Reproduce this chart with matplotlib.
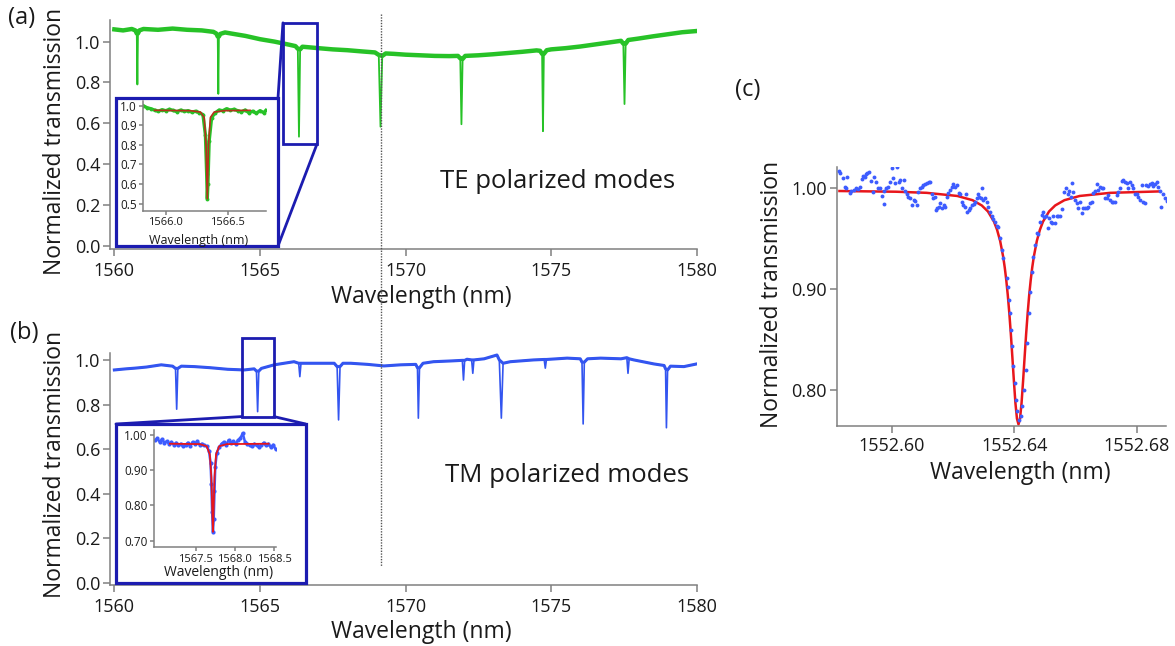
import matplotlib
matplotlib.use("Agg")
import matplotlib.pyplot as plt
from matplotlib.patches import Rectangle, ConnectionPatch
from matplotlib.lines import Line2D
from matplotlib.transforms import blended_transform_factory
from matplotlib.ticker import FormatStrFormatter

plt.rcParams['font.family'] = ['Open Sans', 'DejaVu Sans']

# ---------------- data ----------------
# (a) TE polarized modes: baseline samples and resonance minima
te_base_wl = [1560.00, 1560.30, 1560.60, 1560.72, 1560.77, 1560.81, 1560.86, 1561.00, 1561.50, 1562.00,
              1562.50, 1563.00, 1563.40, 1563.50, 1563.55, 1563.59, 1563.64, 1563.80, 1564.00, 1564.50,
              1565.00, 1565.50, 1566.00, 1566.22, 1566.30, 1566.38, 1566.46, 1566.70, 1567.00, 1567.50,
              1568.00, 1568.50, 1568.95, 1569.08, 1569.20, 1569.32, 1569.60, 1570.00, 1570.50, 1571.00,
              1571.50, 1571.80, 1571.88, 1571.96, 1572.05, 1572.50, 1573.00, 1573.50, 1574.00, 1574.50,
              1574.62, 1574.69, 1574.75, 1574.85, 1575.00, 1575.50, 1576.00, 1576.50, 1577.00, 1577.40,
              1577.48, 1577.56, 1577.65, 1578.00, 1578.50, 1579.00, 1579.50, 1580.00]
te_base_T = [1.060, 1.055, 1.062, 1.055, 1.040, 1.040, 1.055, 1.062, 1.058, 1.064,
             1.058, 1.055, 1.048, 1.040, 1.025, 1.025, 1.038, 1.045, 1.040, 1.028,
             1.012, 1.000, 0.985, 0.978, 0.965, 0.962, 0.975, 0.972, 0.968, 0.962,
             0.958, 0.952, 0.947, 0.935, 0.930, 0.942, 0.940, 0.936, 0.933, 0.930,
             0.929, 0.930, 0.918, 0.915, 0.930, 0.933, 0.938, 0.944, 0.950, 0.957,
             0.955, 0.940, 0.940, 0.958, 0.962, 0.968, 0.976, 0.986, 0.996, 1.004,
             0.990, 0.990, 1.008, 1.015, 1.026, 1.036, 1.046, 1.052]
te_dip_wl = [1560.79, 1563.57, 1566.34, 1569.14, 1571.92, 1574.72, 1577.52]
te_dip_T = [0.790, 0.744, 0.534, 0.583, 0.595, 0.561, 0.694]

# (a) inset: measured (green) and fit (red)
te_in_wl = [1565.82, 1565.85, 1565.88, 1565.91, 1565.94, 1565.97, 1566.00, 1566.03, 1566.06, 1566.09,
            1566.12, 1566.15, 1566.18, 1566.21, 1566.24, 1566.27, 1566.30, 1566.32, 1566.33, 1566.335,
            1566.34, 1566.35, 1566.37, 1566.40, 1566.43, 1566.46, 1566.49, 1566.52, 1566.55, 1566.58,
            1566.61, 1566.64, 1566.67, 1566.70, 1566.73, 1566.76, 1566.79, 1566.81]
te_in_T = [1.000, 0.990, 0.985, 0.978, 0.972, 0.980, 0.975, 0.982, 0.976, 0.970,
           0.978, 0.972, 0.975, 0.968, 0.972, 0.965, 0.955, 0.850, 0.650, 0.525,
           0.600, 0.820, 0.940, 0.965, 0.978, 0.975, 0.985, 0.978, 0.982, 0.975,
           0.970, 0.978, 0.965, 0.972, 0.962, 0.975, 0.965, 0.978]
te_fit_wl = [1565.91, 1566.20, 1566.28, 1566.31, 1566.325, 1566.335, 1566.345, 1566.36, 1566.39, 1566.47, 1566.68]
te_fit_T = [0.977, 0.975, 0.968, 0.940, 0.800, 0.525, 0.800, 0.940, 0.968, 0.975, 0.977]

# (b) TM polarized modes: baseline samples and resonance minima
tm_base_wl = [1560.00, 1560.40, 1560.70, 1561.10, 1561.61, 1562.00, 1562.10, 1562.18, 1562.30, 1562.75,
              1563.30, 1563.89, 1564.46, 1564.80, 1564.88, 1564.96, 1565.05, 1565.49, 1566.17, 1566.33,
              1566.41, 1566.98, 1567.55, 1567.65, 1567.75, 1567.85, 1568.12, 1568.70, 1569.26, 1569.83,
              1570.35, 1570.41, 1570.48, 1570.60, 1570.96, 1571.50, 1571.95, 1572.03, 1572.11, 1572.27,
              1572.35, 1572.70, 1573.14, 1573.22, 1573.35, 1573.60, 1574.40, 1574.76, 1574.84, 1575.55,
              1576.00, 1576.06, 1576.14, 1576.25, 1576.70, 1577.40, 1577.60, 1577.68, 1577.84, 1578.53,
              1578.88, 1578.93, 1579.00, 1579.10, 1579.56, 1580.00]
tm_base_T = [0.955, 0.960, 0.963, 0.968, 0.978, 0.972, 0.962, 0.962, 0.972, 0.970,
             0.965, 0.958, 0.955, 0.960, 0.950, 0.950, 0.962, 0.978, 0.992, 0.985,
             0.985, 0.985, 0.985, 0.970, 0.970, 0.985, 0.985, 0.980, 0.973, 0.978,
             0.980, 0.965, 0.965, 0.985, 0.992, 0.995, 0.998, 0.998, 1.003, 1.000,
             1.000, 1.005, 1.022, 1.000, 0.985, 0.992, 1.000, 1.002, 1.002, 1.008,
             1.005, 0.990, 0.990, 1.005, 1.008, 1.005, 1.010, 1.005, 1.000, 0.982,
             0.975, 0.960, 0.955, 0.972, 0.970, 0.982]
tm_dip_wl = [1562.14, 1564.92, 1566.37, 1567.70, 1570.44, 1571.99, 1572.31, 1573.29, 1574.80, 1576.10, 1577.64, 1578.96]
tm_dip_T = [0.779, 0.768, 0.925, 0.731, 0.739, 0.910, 0.940, 0.739, 0.963, 0.713, 0.940, 0.696]

# (b) inset: measured (blue) and fit (red)
tm_in_wl = [1566.98, 1567.01, 1567.04, 1567.07, 1567.10, 1567.13, 1567.16, 1567.19, 1567.22, 1567.25,
            1567.28, 1567.31, 1567.34, 1567.37, 1567.40, 1567.43, 1567.46, 1567.49, 1567.52, 1567.55,
            1567.58, 1567.61, 1567.64, 1567.67, 1567.69, 1567.70, 1567.71, 1567.72, 1567.73, 1567.74,
            1567.75, 1567.77, 1567.80, 1567.83, 1567.86, 1567.89, 1567.92, 1567.95, 1567.98, 1568.01,
            1568.04, 1568.07, 1568.10, 1568.13, 1568.16, 1568.19, 1568.22, 1568.25, 1568.28, 1568.31,
            1568.34, 1568.37, 1568.40, 1568.43, 1568.46, 1568.49, 1568.52]
tm_in_T = [0.985, 0.990, 0.980, 0.988, 0.978, 0.982, 0.975, 0.980, 0.972, 0.978,
           0.970, 0.975, 0.968, 0.972, 0.978, 0.968, 0.980, 0.975, 0.982, 0.972,
           0.975, 0.970, 0.968, 0.955, 0.920, 0.860, 0.780, 0.725, 0.760, 0.840,
           0.910, 0.950, 0.965, 0.975, 0.980, 0.972, 0.985, 0.978, 0.982, 0.975,
           0.985, 0.990, 1.005, 0.980, 0.975, 0.970, 0.968, 0.975, 0.970, 0.965,
           0.972, 0.978, 0.970, 0.975, 0.965, 0.972, 0.960]
tm_fit_wl = [1567.17, 1567.55, 1567.64, 1567.68, 1567.70, 1567.715, 1567.72, 1567.725, 1567.74, 1567.76, 1567.80, 1567.90, 1568.43]
tm_fit_T = [0.975, 0.974, 0.968, 0.945, 0.880, 0.760, 0.725, 0.760, 0.880, 0.945, 0.968, 0.974, 0.975]

# (c) single resonance: measured points (blue) and Lorentzian fit (red)
c_wl = [1552.5826, 1552.5831, 1552.5842, 1552.5855, 1552.5848, 1552.5851, 1552.5862, 1552.5866, 1552.5875, 1552.5883,
        1552.5888, 1552.5897, 1552.5902, 1552.5907, 1552.5913, 1552.5916, 1552.5920, 1552.5927, 1552.5931, 1552.5938,
        1552.5942, 1552.5949, 1552.5954, 1552.5962, 1552.5967, 1552.5975, 1552.5973, 1552.5981, 1552.5989, 1552.5994,
        1552.6000, 1552.6005, 1552.6011, 1552.6016, 1552.6022, 1552.6027, 1552.6033, 1552.6040, 1552.6043, 1552.6049,
        1552.6054, 1552.6060, 1552.6065, 1552.6071, 1552.6076, 1552.6082, 1552.6087, 1552.6092, 1552.6098, 1552.6103,
        1552.6109, 1552.6114, 1552.6120, 1552.6125, 1552.6130, 1552.6136, 1552.6141, 1552.6145, 1552.6149, 1552.6153,
        1552.6158, 1552.6163, 1552.6169, 1552.6174, 1552.6179, 1552.6185, 1552.6190, 1552.6196, 1552.6201, 1552.6207,
        1552.6212, 1552.6218, 1552.6223, 1552.6228, 1552.6234, 1552.6239, 1552.6243, 1552.6247, 1552.6251, 1552.6256,
        1552.6261, 1552.6267, 1552.6272, 1552.6277, 1552.6283, 1552.6286, 1552.6290, 1552.6294, 1552.6299, 1552.6305,
        1552.6310, 1552.6316, 1552.6321, 1552.6326, 1552.6332, 1552.6337, 1552.6343, 1552.6348, 1552.6354, 1552.6359,
        1552.6364, 1552.6375, 1552.6380, 1552.6384, 1552.6387, 1552.6391, 1552.6394, 1552.6397, 1552.6401, 1552.6406,
        1552.6410, 1552.6416, 1552.6421, 1552.6427, 1552.6432, 1552.6437, 1552.6442, 1552.6447, 1552.6452, 1552.6457,
        1552.6462, 1552.6467, 1552.6473, 1552.6479, 1552.6484, 1552.6490, 1552.6493, 1552.6498, 1552.6504, 1552.6509,
        1552.6515, 1552.6519, 1552.6523, 1552.6528, 1552.6533, 1552.6539, 1552.6544, 1552.6550, 1552.6555, 1552.6564,
        1552.6569, 1552.6575, 1552.6580, 1552.6584, 1552.6589, 1552.6593, 1552.6598, 1552.6604, 1552.6609, 1552.6615,
        1552.6620, 1552.6626, 1552.6631, 1552.6637, 1552.6642, 1552.6647, 1552.6653, 1552.6658, 1552.6664, 1552.6669,
        1552.6675, 1552.6680, 1552.6686, 1552.6691, 1552.6696, 1552.6702, 1552.6707, 1552.6713, 1552.6718, 1552.6724,
        1552.6729, 1552.6735, 1552.6740, 1552.6745, 1552.6751, 1552.6756, 1552.6762, 1552.6767, 1552.6773, 1552.6778,
        1552.6784, 1552.6789, 1552.6794, 1552.6800, 1552.6805, 1552.6811, 1552.6816, 1552.6822, 1552.6827, 1552.6832,
        1552.6838, 1552.6843, 1552.6849, 1552.6854, 1552.6860, 1552.6865, 1552.6871, 1552.6876, 1552.6881, 1552.6887,
        1552.6892, 1552.6898]
c_T = [1.0171, 1.0148, 1.0105, 1.0115, 1.0016, 1.0006, 0.9957, 0.9973, 0.9983, 1.0000,
       0.9990, 1.0010, 1.0092, 1.0125, 1.0115, 1.0138, 1.0148, 1.0165, 1.0072, 0.9960,
       1.0115, 1.0066, 1.0006, 1.0000, 0.9927, 0.9841, 0.9973, 1.0000, 1.0016, 1.0066,
       1.0204, 1.0105, 1.0049, 1.0214, 1.0059, 1.0082, 1.0000, 1.0082, 0.9973, 0.9940,
       0.9917, 0.9901, 0.9835, 0.9884, 0.9874, 0.9835, 0.9967, 1.0000, 1.0016, 1.0033,
       1.0040, 1.0049, 1.0059, 1.0066, 0.9940, 0.9907, 0.9917, 0.9785, 0.9802, 0.9818,
       0.9858, 0.9808, 0.9835, 0.9818, 0.9917, 0.9950, 0.9983, 1.0016, 1.0040, 1.0016,
       1.0033, 0.9950, 0.9940, 0.9868, 0.9835, 0.9818, 0.9940, 0.9769, 0.9785, 0.9802,
       0.9835, 0.9841, 0.9868, 0.9901, 0.9940, 0.9917, 0.9901, 1.0006, 0.9884, 0.9901,
       0.9861, 0.9818, 0.9769, 0.9729, 0.9696, 0.9670, 0.9630, 0.9620, 0.9505, 0.9389,
       0.9307, 0.9109, 0.9026, 0.8894, 0.8762, 0.8597, 0.8432, 0.8234, 0.8069, 0.7904,
       0.7788, 0.7706, 0.7746, 0.7838, 0.8003, 0.8201, 0.8465, 0.8762, 0.8977, 0.9175,
       0.9323, 0.9439, 0.9554, 0.9544, 0.9670, 0.9736, 0.9762, 0.9719, 0.9726, 0.9610,
       0.9703, 0.9670, 0.9653, 0.9726, 0.9660, 0.9726, 0.9726, 0.9726, 0.9792, 0.9967,
       1.0000, 0.9940, 0.9973, 0.9917, 1.0049, 0.9967, 0.9884, 0.9851, 0.9808, 0.9868,
       0.9752, 0.9802, 0.9802, 0.9808, 0.9818, 0.9851, 0.9861, 0.9950, 0.9973, 1.0040,
       0.9983, 1.0016, 1.0006, 1.0000, 0.9901, 0.9907, 0.9934, 0.9884, 0.9868, 0.9861,
       0.9868, 0.9934, 0.9967, 1.0000, 1.0072, 1.0082, 1.0059, 1.0049, 1.0000, 1.0066,
       1.0033, 1.0000, 0.9940, 0.9940, 0.9917, 0.9884, 1.0033, 0.9868, 0.9851, 1.0033,
       1.0026, 1.0040, 1.0049, 1.0026, 1.0040, 1.0066, 1.0016, 0.9973, 0.9818, 0.9940,
       0.9901, 0.9874]
c_fit_wl = [1552.5829, 1552.6014, 1552.6114, 1552.6214, 1552.6264, 1552.6294, 1552.6314, 1552.6334, 1552.6344, 1552.6354,
            1552.6364, 1552.6369, 1552.6374, 1552.6379, 1552.6384, 1552.6389, 1552.6394, 1552.6399, 1552.6404, 1552.6409,
            1552.6414, 1552.6419, 1552.6424, 1552.6429, 1552.6434, 1552.6439, 1552.6444, 1552.6449, 1552.6454, 1552.6459,
            1552.6464, 1552.6474, 1552.6484, 1552.6494, 1552.6514, 1552.6534, 1552.6564, 1552.6614, 1552.6714, 1552.6874]
c_fit_T = [0.9973, 0.9966, 0.9955, 0.9924, 0.9882, 0.9830, 0.9771, 0.9669, 0.9589, 0.9479,
           0.9321, 0.9217, 0.9092, 0.8942, 0.8763, 0.8557, 0.8326, 0.8089, 0.7871, 0.7717,
           0.7660, 0.7717, 0.7871, 0.8089, 0.8326, 0.8557, 0.8763, 0.8942, 0.9092, 0.9217,
           0.9321, 0.9479, 0.9589, 0.9669, 0.9771, 0.9830, 0.9882, 0.9924, 0.9955, 0.9969]

# zoomed regions marked in (a) and (b): (wl_min, wl_max, T_min, T_max)
zoom_a = (1565.79, 1566.96, 0.4985, 1.092)
zoom_b = (1564.37, 1565.48, 0.746, 1.097)
marker_wl = 1569.17  # dotted reference line

main_xticks = [1560, 1565, 1570, 1575, 1580]
main_yticks = [0.0, 0.2, 0.4, 0.6, 0.8, 1.0]
ina_xticks = [1566.0, 1566.5]
ina_yticks = [0.5, 0.6, 0.7, 0.8, 0.9, 1.0]
inb_xticks = [1567.5, 1568.0, 1568.5]
inb_yticks = [0.70, 0.80, 0.90, 1.00]
c_xticks = [1552.60, 1552.64, 1552.68]
c_yticks = [0.80, 0.90, 1.00]

# full traces = baseline samples merged with the resonance minima
te_full = sorted(zip(te_base_wl + te_dip_wl, te_base_T + te_dip_T))
tm_full = sorted(zip(tm_base_wl + tm_dip_wl, tm_base_T + tm_dip_T))

# ---------------- figure ----------------
W, H = 1175, 646
fig = plt.figure(figsize=(W / 100, H / 100), dpi=100)
fig.patch.set_facecolor('white')

GREEN = '#27c227'
BLUE = '#3355f0'
DOT_BLUE = '#3d5cff'
RED = '#e8161b'
BOX = '#1c1cb0'
SPINE = '#808080'
TXT = '#1a1a1a'


def px_axes(l, t, r, b, z=0):
    ax = fig.add_axes([l / W, 1 - b / H, (r - l) / W, (b - t) / H])
    ax.set_zorder(z)
    return ax


def style(ax, size, length=5, pad=4):
    for s in ['top', 'right']:
        ax.spines[s].set_visible(False)
    for s in ['left', 'bottom']:
        ax.spines[s].set_color(SPINE)
        ax.spines[s].set_linewidth(1.1)
    ax.tick_params(direction='out', color=SPINE, labelsize=size, labelcolor=TXT,
                   length=length, width=1.1, pad=pad)
    ax.patch.set_alpha(0)


# ---- panel (a)
ax_a = px_axes(110, 20, 697, 249.3)
ax_a.plot(te_base_wl, te_base_T, color=GREEN, lw=3.2, solid_joinstyle='round')
ax_a.plot([p[0] for p in te_full], [p[1] for p in te_full], color=GREEN, lw=1.3,
          solid_joinstyle='round')
ax_a.set_xlim(1559.85, 1580.01)
ax_a.set_ylim(-0.018, 1.106)
ax_a.set_xticks(main_xticks)
ax_a.set_yticks(main_yticks)
ax_a.yaxis.set_major_formatter(FormatStrFormatter('%.1f'))
style(ax_a, 13)
ax_a.tick_params(axis='y', pad=2)
ax_a.set_xlabel('Wavelength (nm)', fontsize=16.5, color=TXT)
ax_a.set_ylabel('Normalized transmission', fontsize=16.5, color=TXT)
ax_a.xaxis.set_label_coords(0.5307, -0.208)
ax_a.xaxis.label.set_va('center')
ax_a.yaxis.set_label_coords(-0.094, 0.47)
ax_a.yaxis.label.set_va('center')
ax_a.add_patch(Rectangle((zoom_a[0], zoom_a[2]), zoom_a[1] - zoom_a[0], zoom_a[3] - zoom_a[2],
                         fill=False, ec=BOX, lw=2.0, clip_on=False, zorder=5))

# ---- panel (b)
ax_b = px_axes(110, 353, 697, 585)
ax_b.plot(tm_base_wl, tm_base_T, color=BLUE, lw=2.2, solid_joinstyle='round')
ax_b.plot([p[0] for p in tm_full], [p[1] for p in tm_full], color=BLUE, lw=1.2,
          solid_joinstyle='round')
ax_b.set_xlim(1559.85, 1580.01)
ax_b.set_ylim(-0.009, 1.031)
ax_b.set_xticks(main_xticks)
ax_b.set_yticks(main_yticks)
ax_b.yaxis.set_major_formatter(FormatStrFormatter('%.1f'))
style(ax_b, 13)
ax_b.tick_params(axis='y', pad=2)
ax_b.set_xlabel('Wavelength (nm)', fontsize=16.5, color=TXT)
ax_b.set_ylabel('Normalized transmission', fontsize=16.5, color=TXT)
ax_b.xaxis.set_label_coords(0.5307, -0.2026)
ax_b.xaxis.label.set_va('center')
ax_b.yaxis.set_label_coords(-0.094, 0.52)
ax_b.yaxis.label.set_va('center')
ax_b.add_patch(Rectangle((zoom_b[0], zoom_b[2]), zoom_b[1] - zoom_b[0], zoom_b[3] - zoom_b[2],
                         fill=False, ec=BOX, lw=2.0, clip_on=False, zorder=5))

# dotted reference line through (a) and (b)
tr = blended_transform_factory(ax_a.transData, fig.transFigure)
fig.add_artist(Line2D([marker_wl, marker_wl], [1 - 14 / H, 1 - 566 / H], transform=tr,
                      color='#555555', lw=1.0, linestyle=(0, (1, 1)), zorder=3))

# ---- inset boxes + connector lines
box_a = Rectangle((116 / W, 1 - 246 / H), 162 / W, 148 / H, transform=fig.transFigure,
                  fc='white', ec=BOX, lw=2.3, zorder=4)
fig.add_artist(box_a)
box_b = Rectangle((116 / W, 1 - 583 / H), 189.7 / W, 159 / H, transform=fig.transFigure,
                  fc='white', ec=BOX, lw=2.3, zorder=4)
fig.add_artist(box_b)

for xyA, xyB, axB in [((278 / W, 1 - 98 / H), (zoom_a[0], zoom_a[3]), ax_a),
                      ((278 / W, 1 - 246 / H), (zoom_a[1], zoom_a[2]), ax_a),
                      ((116 / W, 1 - 424 / H), (zoom_b[0], zoom_b[2]), ax_b),
                      ((305.7 / W, 1 - 424 / H), (zoom_b[1], zoom_b[2]), ax_b)]:
    cp = ConnectionPatch(xyA=xyA, coordsA='figure fraction', xyB=xyB, coordsB='data',
                         axesB=axB, color=BOX, lw=2.0, zorder=4)
    fig.add_artist(cp)

# ---- inset (a)
ia = px_axes(143.3, 101.5, 265.7, 211, z=5)
ia.plot(te_in_wl, te_in_T, color=GREEN, lw=2.4, marker='o', ms=2.8, mec='none')
ia.plot(te_fit_wl, te_fit_T, color='#c8201a', lw=1.2, alpha=0.9)
ia.set_xlim(1565.819, 1566.806)
ia.set_ylim(0.462, 1.022)
ia.set_xticks(ina_xticks)
ia.set_yticks(ina_yticks)
ia.xaxis.set_major_formatter(FormatStrFormatter('%.1f'))
ia.yaxis.set_major_formatter(FormatStrFormatter('%.1f'))
style(ia, 8, length=3, pad=1)
ia.tick_params(axis='y', labelsize=8.5, pad=1.5)
ia.set_xlabel('Wavelength (nm)', fontsize=9, color=TXT)
ia.xaxis.set_label_coords(0.455, -0.272)
ia.xaxis.label.set_va('center')

# ---- inset (b)
ib = px_axes(154.3, 430, 275.7, 547.3, z=5)
ib.plot(tm_in_wl, tm_in_T, color=DOT_BLUE, lw=1.8, marker='o', ms=3.0, mec='none')
ib.plot(tm_fit_wl, tm_fit_T, color=RED, lw=1.3)
ib.set_xlim(1566.971, 1568.522)
ib.set_ylim(0.681, 1.014)
ib.set_xticks(inb_xticks)
ib.set_yticks(inb_yticks)
ib.xaxis.set_major_formatter(FormatStrFormatter('%.1f'))
ib.yaxis.set_major_formatter(FormatStrFormatter('%.2f'))
style(ib, 8, length=3, pad=2)
ib.tick_params(axis='y', labelsize=8.5)
ib.set_xlabel('Wavelength (nm)', fontsize=10, color=TXT)
ib.xaxis.set_label_coords(0.527, -0.219)
ib.xaxis.label.set_va('center')

# ---- panel (c)
ax_c = px_axes(836.7, 166.7, 1166, 426)
ax_c.plot(c_fit_wl, c_fit_T, color=RED, lw=1.8, zorder=2)
ax_c.plot(c_wl, c_T, 'o', color=DOT_BLUE, ms=2.8, mec='none', zorder=3)
ax_c.set_xlim(1552.582, 1552.6896)
ax_c.set_ylim(0.7644, 1.0214)
ax_c.set_xticks(c_xticks)
ax_c.set_yticks(c_yticks)
ax_c.xaxis.set_major_formatter(FormatStrFormatter('%.2f'))
ax_c.yaxis.set_major_formatter(FormatStrFormatter('%.2f'))
style(ax_c, 13, pad=3)
ax_c.tick_params(axis='y', pad=2)
ax_c.set_xlabel('Wavelength (nm)', fontsize=16.5, color=TXT)
ax_c.set_ylabel('Normalized transmission', fontsize=16.5, color=TXT)
ax_c.xaxis.set_label_coords(0.559, -0.181)
ax_c.xaxis.label.set_va('center')
ax_c.yaxis.set_label_coords(-0.196, 0.509)
ax_c.yaxis.label.set_va('center')

# ---- texts
fig.text(440 / W, 1 - 182 / H, 'TE polarized modes', fontsize=18.5, color=TXT, va='center', ha='left')
fig.text(445 / W, 1 - 475 / H, 'TM polarized modes', fontsize=18.5, color=TXT, va='center', ha='left')
fig.text(8 / W, 1 - 18 / H, '(a)', fontsize=17, color=TXT, va='center', ha='left')
fig.text(10 / W, 1 - 333 / H, '(b)', fontsize=17, color=TXT, va='center', ha='left')
fig.text(735 / W, 1 - 90 / H, '(c)', fontsize=17, color=TXT, va='center', ha='left')

fig.savefig('out.png', dpi=100)
